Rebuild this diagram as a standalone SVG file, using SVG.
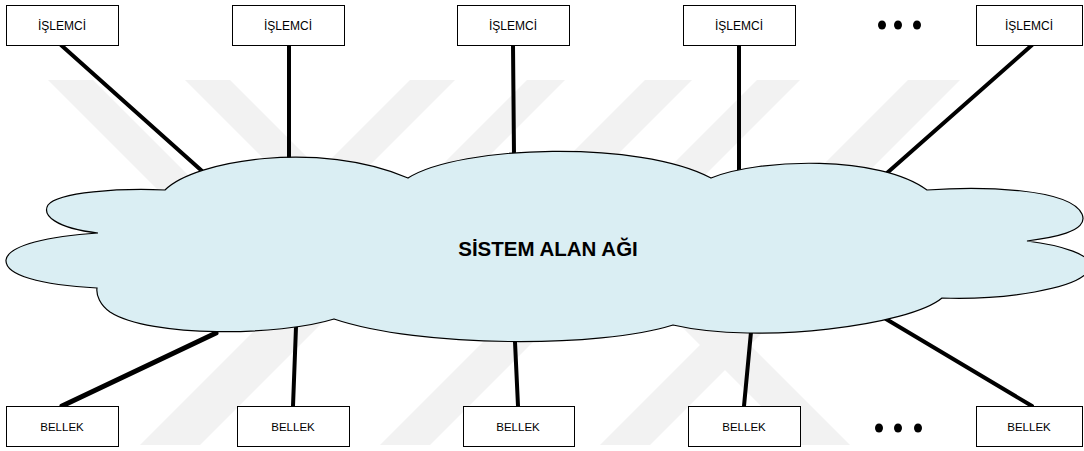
<svg xmlns="http://www.w3.org/2000/svg" width="1084" height="451" viewBox="0 0 1084 451">
<style>
.box{fill:#fff;stroke:#000;stroke-width:1}
.lbl{font-family:"Liberation Sans",Arial,sans-serif;font-size:12px;fill:#000;text-anchor:middle}
.bl{font-size:11.5px}
.wire{stroke:#000;stroke-width:4;stroke-linecap:round;fill:none}
.wm{fill:#f2f2f2}
.dot{fill:#000}
</style>
<rect width="1084" height="451" fill="#fff"/>
<g id="watermark">
<polygon class="wm" points="48,80 93,80 213,200 168,200"/>
<polygon class="wm" points="185,80 230,80 330,180 285,180"/>
<polygon class="wm" points="410,80 455,80 335,200 290,200"/>
<polygon class="wm" points="527,80 565,80 445,200 407,200"/>
<polygon class="wm" points="645,80 692,80 572,200 525,200"/>
<polygon class="wm" points="757,80 800,80 680,200 637,200"/>
<polygon class="wm" points="908,80 960,80 840,200 788,200"/>
<polygon class="wm" points="285,300 345,300 200,445 140,445"/>
<polygon class="wm" points="525,300 575,300 430,445 380,445"/>
<polygon class="wm" points="745,300 795,300 650,445 600,445"/>
<polygon class="wm" points="655,300 705,300 850,445 800,445"/>
</g>
<g id="connectors">
<line class="wire" x1="61" y1="45" x2="202" y2="171"/>
<line class="wire" x1="289" y1="45" x2="289" y2="160"/>
<line class="wire" x1="513" y1="45" x2="514" y2="155"/>
<line class="wire" x1="739" y1="45" x2="739" y2="172"/>
<line class="wire" x1="1032" y1="45" x2="887" y2="173"/>
<line class="wire" x1="216" y1="333" x2="62" y2="406" style="stroke-width:5"/>
<line class="wire" x1="296" y1="327" x2="293" y2="406"/>
<line class="wire" x1="515" y1="342" x2="518" y2="406"/>
<line class="wire" x1="751" y1="332" x2="744" y2="406"/>
<line class="wire" x1="886" y1="319" x2="1032" y2="406"/>
</g>
<g id="cloud">
<path d="M165,190 C195,160 320,140 408,178 C460,145 640,140 711,178 C760,158 880,155 927,190 C980,186 1070,188 1082,214 C1090,232 1050,238 1027,241 C1060,245 1095,255 1090,268 C1082,290 1000,300 942,298 C910,325 760,345 673,325 C600,348 420,348 334,319 C280,336 150,338 110,312 C100,305 96,295 97,288 C40,285 5,275 6,260 C8,245 50,236 98,233 C55,228 42,215 48,205 C58,192 120,188 165,190 Z" fill="#daeef3" stroke="#000" stroke-width="1.2"/>
<text x="548" y="256" font-family="'Liberation Sans',Arial,sans-serif" font-size="20.5" font-weight="bold" text-anchor="middle" fill="#000">SİSTEM ALAN AĞI</text>
</g>
<g id="cpu1"><rect class="box" x="6.5" y="5.5" width="112" height="40"/><text class="lbl" x="62" y="30">İŞLEMCİ</text></g>
<g id="cpu2"><rect class="box" x="232.5" y="5.5" width="112" height="40"/><text class="lbl" x="288" y="30">İŞLEMCİ</text></g>
<g id="cpu3"><rect class="box" x="457.5" y="5.5" width="112" height="40"/><text class="lbl" x="513" y="30">İŞLEMCİ</text></g>
<g id="cpu4"><rect class="box" x="683.5" y="5.5" width="112" height="40"/><text class="lbl" x="739" y="30">İŞLEMCİ</text></g>
<g id="cpu5"><rect class="box" x="976.5" y="5.5" width="106" height="40"/><text class="lbl" x="1029" y="30">İŞLEMCİ</text></g>
<g id="dotsTop"><ellipse class="dot" cx="882" cy="25" rx="4" ry="4.5"/><ellipse class="dot" cx="898" cy="25" rx="4" ry="4.5"/><ellipse class="dot" cx="917" cy="25" rx="4" ry="4.5"/></g>
<g id="mem1"><rect class="box" x="6.5" y="406.5" width="112" height="40"/><text class="lbl bl" x="62" y="431">BELLEK</text></g>
<g id="mem2"><rect class="box" x="237.5" y="406.5" width="112" height="40"/><text class="lbl bl" x="293" y="431">BELLEK</text></g>
<g id="mem3"><rect class="box" x="463.5" y="406.5" width="111" height="40"/><text class="lbl bl" x="518" y="431">BELLEK</text></g>
<g id="mem4"><rect class="box" x="688.5" y="406.5" width="112" height="40"/><text class="lbl bl" x="744" y="431">BELLEK</text></g>
<g id="mem5"><rect class="box" x="976.5" y="406.5" width="106" height="40"/><text class="lbl bl" x="1029" y="431">BELLEK</text></g>
<g id="dotsBottom"><ellipse class="dot" cx="879" cy="428" rx="4" ry="4.5"/><ellipse class="dot" cx="898" cy="428" rx="4" ry="4.5"/><ellipse class="dot" cx="918" cy="428" rx="4" ry="4.5"/></g>
</svg>
